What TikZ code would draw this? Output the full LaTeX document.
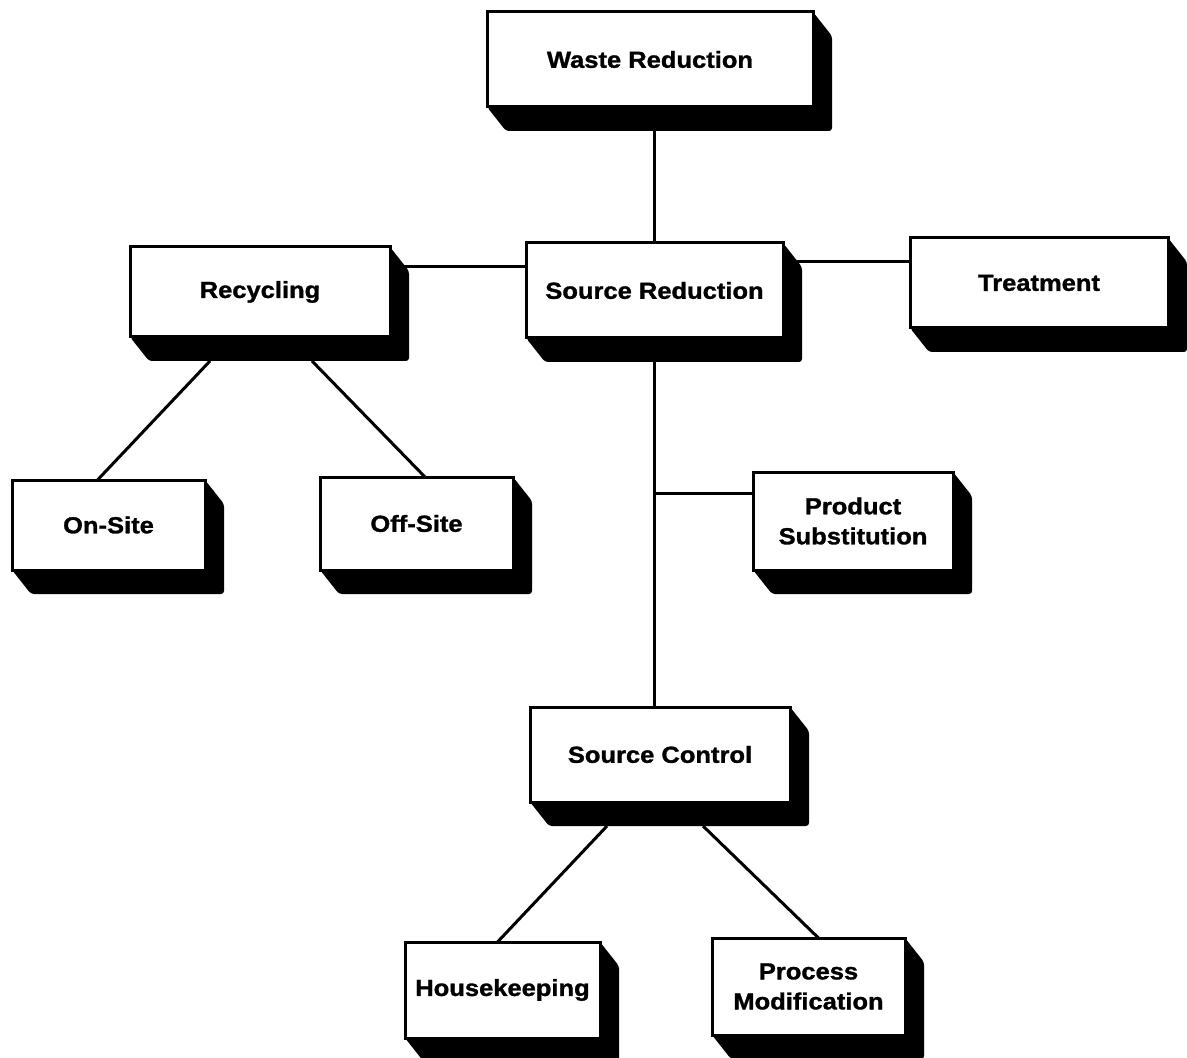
\documentclass[tikz,border=0pt]{standalone}
\usepackage{fontspec}
\newfontfamily\boxfont[FakeStretch=1.1, BoldFeatures={FakeBold=1.3}]{Liberation Sans}
\usetikzlibrary{calc,backgrounds}
\tikzset{
  bx/.style={draw=black, fill=white, line width=1.5pt, inner sep=0pt, outer sep=0pt,
    align=center, font=\boxfont\bfseries\fontsize{11.6}{15}\selectfont},
  link/.style={draw=black, line width=1.5pt},
  extr/.style={fill=black, rounded corners=1.5pt}
}
\begin{document}
\begin{tikzpicture}[x=0.5pt, y=-0.5pt]
\useasboundingbox (0,0) rectangle (1187,1058);

\node[bx, minimum width=163pt, minimum height=47.5pt] (wr)  at (650,59.5)    {Waste Reduction};
\node[bx, minimum width=128.5pt, minimum height=47.5pt] (sr) at (654.5,290.5) {Source Reduction};
\node[bx, minimum width=130pt, minimum height=45pt]   (rec) at (260,292)     {Recycling};
\node[bx, minimum width=129pt, minimum height=45pt]   (tr)  at (1039,283)    {Treatment};
\node[bx, minimum width=96.5pt, minimum height=45pt]  (on)  at (108.5,525)   {On-Site};
\node[bx, minimum width=96.5pt, minimum height=46.5pt] (off) at (416.5,523.5) {Off-Site};
\node[bx, minimum width=100pt, minimum height=49pt]   (ps)  at (853,521)     {Product\\Substitution};
\node[bx, minimum width=130pt, minimum height=47.5pt] (sc)  at (660,754.5)   {Source Control};
\node[bx, minimum width=97.5pt, minimum height=48pt]  (hk)  at (502.5,990)   {Housekeeping};
\node[bx, minimum width=96.5pt, minimum height=48.5pt] (pm) at (808.5,986.5) {Process\\Modification};

\begin{scope}[on background layer]
  % connectors
  \draw[link] (sr.north) -- (sr.north |- wr.south);
  \draw[link] (sr.west |- 0,267) -- (rec.east |- 0,267);
  \draw[link] (sr.east |- 0,262) -- (tr.west |- 0,262);
  \draw[link] (sr.south) -- (sr.south |- sc.north);
  \draw[link] (sr.south |- 0,493) -- (ps.west |- 0,493);
  \draw[link] ($(rec.south west)+(80,24)$) -- ($(on.north)+(-11,0)$);
  \draw[link] ($(rec.south west)+(182,24)$) -- ($(off.north)+(8.5,0)$);
  \draw[link] ($(sc.south west)+(77,24)$) -- ($(hk.north)+(-5,0)$);
  \draw[link] ($(sc.south west)+(173,24)$) -- ($(pm.north)+(10,0)$);
  % 3D extrusions
  \foreach \n in {wr,sr,rec,tr,on,off,ps,sc,hk,pm}
    \fill[extr] (\n.north east) -- ++(19,24) -- ($(\n.south east)+(19,24)$)
      -- ($(\n.south west)+(19,24)$) -- (\n.south west) -- cycle;
\end{scope}
\end{tikzpicture}
\end{document}
